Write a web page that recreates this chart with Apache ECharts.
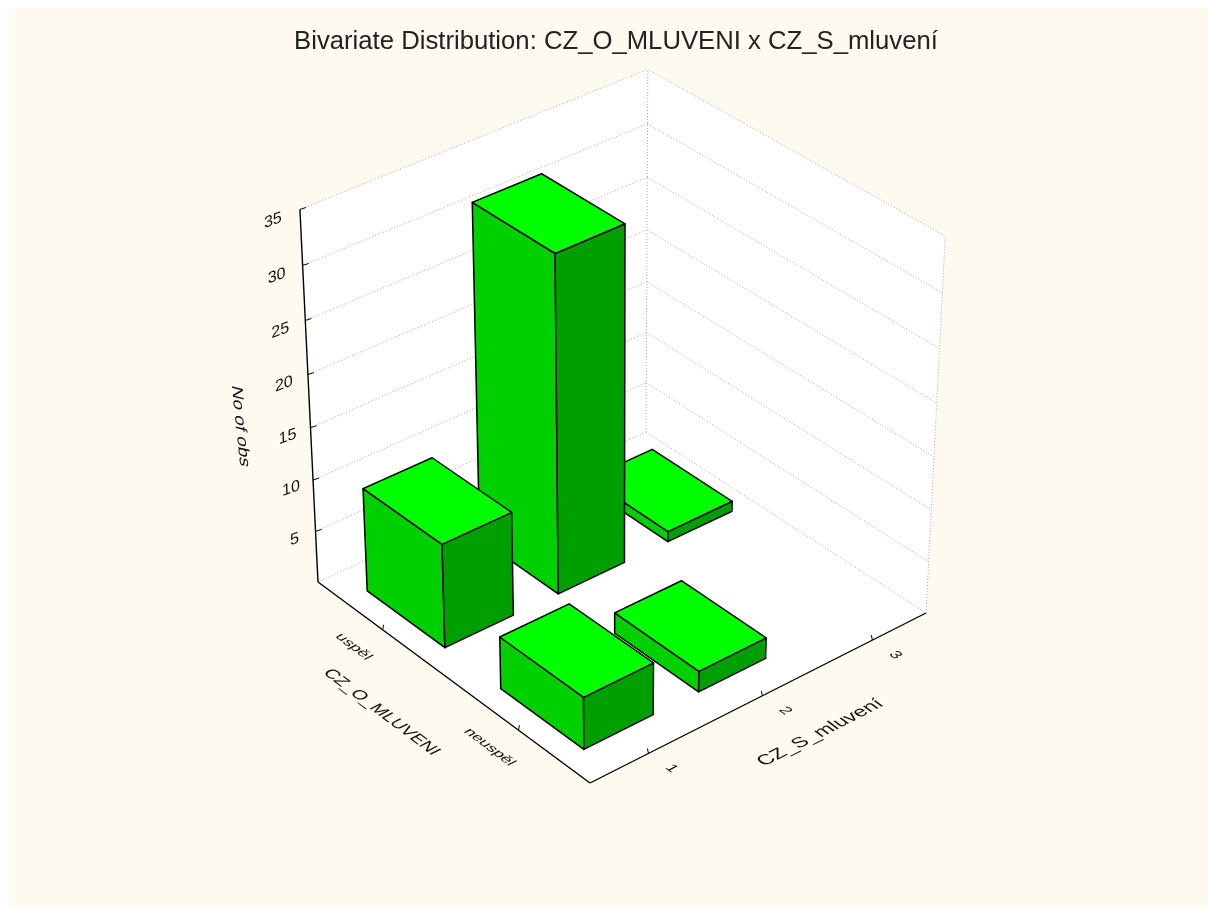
<!DOCTYPE html>
<html>
<head>
<meta charset="utf-8">
<title>Bivariate Distribution</title>
<script src="https://cdn.jsdelivr.net/npm/echarts@6/dist/echarts.min.js"></script>
<style>
  html, body { margin: 0; background: #fff; }
  .paper { position: absolute; left: 9px; top: 8px; right: 0; bottom: 0; background: #fffaf0; }
  #box { position: absolute; left: 0; top: 0; width: 1208px; height: 908px; }
</style>
</head>
<body>
<div class="paper"></div>
<div id="box"></div>
<script>
// data
const colLabels = ['1', '2', '3']
const rowLabels = ['uspěl', 'neuspěl']
const usplValues = [10, 32, 1]
const neusplValues = [5, 2, 0]
const zTicks = [0, 5, 10, 15, 20, 25, 30, 35]
const zMax = 35

const titleText = 'Bivariate Distribution: CZ_O_MLUVENI x CZ_S_mluvení'
const colTitle = 'CZ_S_mluvení'
const rowTitle = 'CZ_O_MLUVENI'
const zTitle = 'No of obs'

// corners of the plot box on screen
const F = [590, 783], R = [926, 613], B = [646, 432], L = [318, 582]
const R2 = [945, 238], B2 = [648, 71], L2 = [300, 206]

const BAR_U = 0.6, BAR_V = 0.59
const FONT = '"Liberation Sans", Arial, sans-serif'
const rad = d => d * Math.PI / 180

/* floor plane: unit square -> quad, then a column for height */
function makeCamera () {
  const dx1 = R[0] - B[0], dx2 = L[0] - B[0], sx = F[0] - R[0] + B[0] - L[0]
  const dy1 = R[1] - B[1], dy2 = L[1] - B[1], sy = F[1] - R[1] + B[1] - L[1]
  const det = dx1 * dy2 - dx2 * dy1
  const g = (sx * dy2 - dx2 * sy) / det
  const h = (dx1 * sy - sx * dy1) / det
  const r0 = [R[0] - F[0] + g * R[0], L[0] - F[0] + h * L[0], F[0]]
  const r1 = [R[1] - F[1] + g * R[1], L[1] - F[1] + h * L[1], F[1]]
  const r2 = [g, h, 1]
  const dot = (r, u, v) => r[0] * u + r[1] * v + r[2]
  // rhs of c1 - x * c3 = x * (r2.q) - r0.q for the three top corners
  const tops = [[0, 1, L2], [1, 1, B2], [1, 0, R2]]
  const rx = tops.map(t => t[2][0] * dot(r2, t[0], t[1]) - dot(r0, t[0], t[1]))
  const ry = tops.map(t => t[2][1] * dot(r2, t[0], t[1]) - dot(r1, t[0], t[1]))
  const c3 = ((rx[0] - rx[2]) / (L2[0] - R2[0]) * -1 + (ry[1] - ry[2]) / (B2[1] - R2[1]) * -1) / 2
  const avg = a => (a[0] + a[1] + a[2]) / 3
  const c1 = avg(rx) + c3 * avg(tops.map(t => t[2][0]))
  const c2 = avg(ry) + c3 * avg(tops.map(t => t[2][1]))
  return function (u, v, z) {
    const k = z / zMax
    const w = dot(r2, u, v) + c3 * k
    return [(dot(r0, u, v) + c1 * k) / w, (dot(r1, u, v) + c2 * k) / w]
  }
}
const project = makeCamera()

const colU = i => (i + 0.5) / colLabels.length
const rowV = j => 1 - (j + 0.5) / rowLabels.length

// back bars first so nearer ones paint over them
const barRows = []
;[usplValues, neusplValues].forEach((vals, j) => {
  vals.forEach((val, i) => { barRows.push([i, j, val]) })
})
barRows.sort((a, b) => (colU(b[0]) + rowV(b[1])) - (colU(a[0]) + rowV(a[1])))

function poly (api, pts, fill) {
  return {
    type: 'polygon',
    shape: { points: pts.map(p => api.coord(p)) },
    style: { fill: fill, stroke: '#000', lineWidth: 1.5, lineJoin: 'round' }
  }
}

function renderBar (params, api) {
  const i = api.value(0), j = api.value(1), val = api.value(2)
  if (!val) return { type: 'group', children: [] }
  const hu = BAR_U / colLabels.length / 2
  const hv = BAR_V / rowLabels.length / 2
  const u0 = colU(i) - hu, u1 = colU(i) + hu
  const v0 = rowV(j) - hv, v1 = rowV(j) + hv
  const left = [project(u0, v1, 0), project(u0, v0, 0), project(u0, v0, val), project(u0, v1, val)]
  const right = [project(u0, v0, 0), project(u1, v0, 0), project(u1, v0, val), project(u0, v0, val)]
  const top = [project(u0, v0, val), project(u1, v0, val), project(u1, v1, val), project(u0, v1, val)]
  return {
    type: 'group',
    children: [poly(api, left, '#00d000'), poly(api, right, '#009f00'), poly(api, top, '#00ff00')]
  }
}

function seg (api, a, b, color, width, dash) {
  const p = api.coord(a), q = api.coord(b)
  return {
    type: 'line',
    shape: { x1: p[0], y1: p[1], x2: q[0], y2: q[1] },
    style: { stroke: color, lineWidth: width, lineDash: dash || null }
  }
}

// the original lays its text on the box planes, so it is rotated and sheared
function label (api, pos, dx, dy, text, size, rot, skew, squash) {
  const p = api.coord(pos)
  return {
    type: 'text',
    x: p[0] + dx,
    y: p[1] + dy,
    rotation: rad(rot),
    skewX: rad(skew || 0),
    scaleY: squash || 1,
    style: {
      text: text,
      align: 'center',
      verticalAlign: 'middle',
      fill: '#111',
      font: size + 'px ' + FONT
    }
  }
}

function renderFrame (params, api) {
  const kids = []
  const outline = [project(0, 1, 0), project(0, 1, zMax), project(1, 1, zMax), project(1, 0, zMax), project(1, 0, 0), project(0, 0, 0)]
  kids.push({
    type: 'polygon',
    shape: { points: outline.map(p => api.coord(p)) },
    style: { fill: '#fff' }
  })
  const dot = '#a8a8a8'
  zTicks.forEach(z => {
    kids.push(seg(api, project(0, 1, z), project(1, 1, z), dot, 1, [1, 2]))
    kids.push(seg(api, project(1, 1, z), project(1, 0, z), dot, 1, [1, 2]))
  })
  kids.push(seg(api, project(1, 1, 0), project(1, 1, zMax), dot, 1, [1, 2]))
  kids.push(seg(api, project(1, 0, 0), project(1, 0, zMax), dot, 1, [1, 2]))

  // solid axes
  kids.push(seg(api, project(0, 1, 0), project(0, 1, zMax), '#000', 1.4))
  kids.push(seg(api, project(0, 1, 0), project(0, 0, 0), '#000', 1.4))
  kids.push(seg(api, project(0, 0, 0), project(1, 0, 0), '#000', 1.4))

  zTicks.forEach(z => {
    const p = project(0, 1, z)
    if (z > 0) {
      kids.push(seg(api, p, [p[0] + 6, p[1] - 2], '#000', 1))
      kids.push(label(api, p, -21 - (z - 5) / 5, 8 + (z - 5) / 10, String(z), 17, 20, -18, 0.9))
    }
  })
  colLabels.forEach((t, i) => {
    const p = project(colU(i), 0, 0)
    kids.push(seg(api, p, [p[0] - 1, p[1] - 5], '#000', 1))
    kids.push(label(api, p, 23, 15, t, 16, -36, -26, 0.8))
  })
  rowLabels.forEach((t, j) => {
    const p = project(0, rowV(j), 0)
    kids.push(seg(api, p, [p[0] + 1, p[1] - 5], '#000', 1))
    kids.push(label(api, p, -29, 17, t, 16.5, -37, -26, 0.75))
  })
  kids.push(label(api, project(0, 0.5, 0), -68, 33, rowTitle, 18, -37, -26, 0.85))
  kids.push(label(api, project(0.5, 0, 0), 58, 37, colTitle, 20.5, 27, 26, 0.8))
  kids.push(label(api, project(0, 1, zMax / 2), -69, 25, zTitle, 19, -84, -20, 0.8))
  return { type: 'group', children: kids }
}

const chart = echarts.init(document.getElementById('box'), null, { renderer: 'canvas' })
chart.setOption({
  animation: false,
  backgroundColor: 'transparent',
  title: {
    text: titleText,
    left: 611,
    top: 24,
    textAlign: 'center',
    textStyle: { fontFamily: FONT, fontSize: 25.7, fontWeight: 'normal', color: '#222' }
  },
  grid: { left: 0, right: 0, top: 0, bottom: 0 },
  xAxis: { type: 'value', min: 0, max: 1208, show: false },
  yAxis: { type: 'value', min: 0, max: 908, inverse: true, show: false },
  series: [
    { type: 'custom', silent: true, clip: false, data: [[0, 0]], renderItem: renderFrame, z: 1 },
    { type: 'custom', silent: true, clip: false, data: barRows, renderItem: renderBar, z: 2 }
  ]
})
</script>
</body>
</html>
